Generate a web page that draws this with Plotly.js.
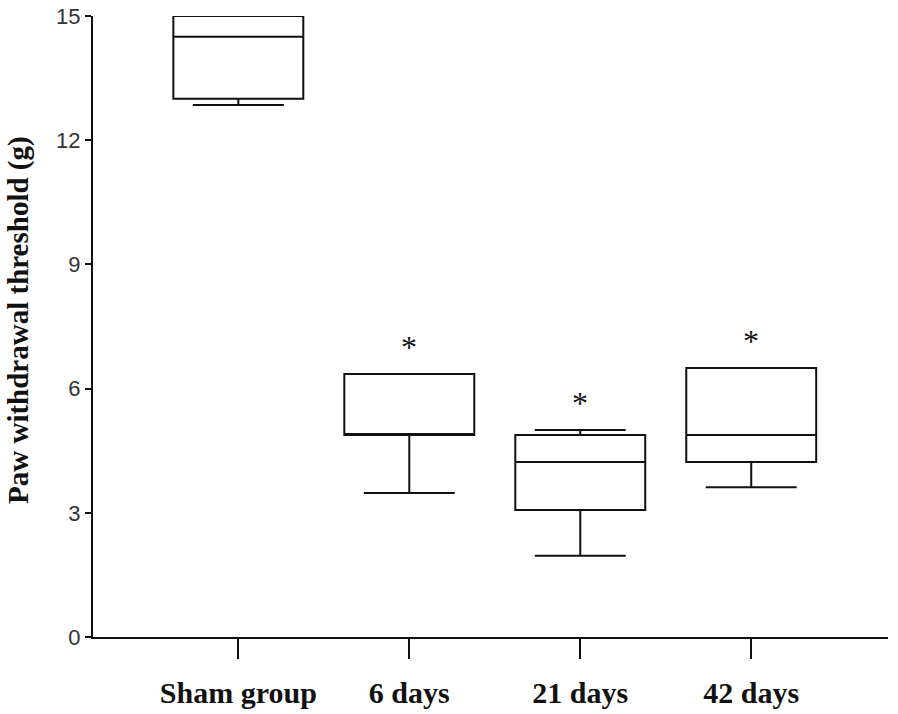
<!DOCTYPE html>
<html>
<head>
<meta charset="utf-8">
<script src="https://cdn.plot.ly/plotly-3.0.1.min.js"></script>
<style>html,body{margin:0;padding:0;background:#fff;}#chart{width:898px;height:714px;}</style>
</head>
<body>
<div id="chart"></div>
<script>
// Data
const categories = ["Sham group", "6 days", "21 days", "42 days"];
const lowerFence = [12.85, 3.48, 1.96, 3.62];
const q1 = [13.0, 4.88, 3.07, 4.23];
const median = [14.5, 4.88, 4.23, 4.88];
const q3 = [15.0, 6.35, 4.88, 6.50];
const upperFence = [15.0, 6.35, 5.0, 6.50];
const significant = [false, true, true, true];
const yTicks = [0, 3, 6, 9, 12, 15];
const yTitle = "Paw withdrawal threshold (g)";

const xIdx = categories.map((c, i) => i);

const trace = {
  type: "box",
  x: xIdx,
  q1: q1,
  median: median,
  q3: q3,
  lowerfence: lowerFence,
  upperfence: upperFence,
  boxpoints: false,
  width: 0.76,
  fillcolor: "#ffffff",
  line: {color: "#111111", width: 2},
  whiskerwidth: 0.7,
  showlegend: false,
  hoverinfo: "skip"
};

const annotations = [];
categories.forEach((c, i) => {
  if (significant[i]) {
    annotations.push({
      x: xIdx[i], y: upperFence[i], xref: "x", yref: "y",
      text: "*", showarrow: false, yanchor: "bottom", yshift: 7,
      font: {family: "Liberation Serif", size: 32, color: "#111"}
    });
  }
});
annotations.push({
  xref: "paper", yref: "paper", x: -0.0935, y: 0.51,
  xanchor: "center", yanchor: "middle", textangle: -90,
  text: "<b>" + yTitle + "</b>", showarrow: false,
  font: {family: "Liberation Serif", size: 29, color: "#111"}
});

const layout = {
  width: 898, height: 714,
  margin: {l: 93, r: 10, t: 16, b: 77},
  paper_bgcolor: "#fff", plot_bgcolor: "#fff",
  xaxis: {
    range: [-0.85, 3.8],
    tickvals: xIdx,
    ticktext: categories.map(c => "<b>" + c + "</b>"),
    showgrid: false, zeroline: false,
    showline: true, linecolor: "#111", linewidth: 2,
    ticks: "outside", ticklen: 20, tickwidth: 2, tickcolor: "#111",
    ticklabelstandoff: 8,
    tickfont: {family: "Liberation Serif", size: 30, color: "#111"}
  },
  yaxis: {
    range: [0, 15],
    tickvals: yTicks,
    showgrid: false, zeroline: false,
    showline: true, linecolor: "#111", linewidth: 2,
    ticks: "outside", ticklen: 6, tickwidth: 2, tickcolor: "#111",
    tickfont: {family: "Liberation Sans", size: 22, color: "#333"}
  },
  annotations: annotations
};

Plotly.newPlot("chart", [trace], layout, {displayModeBar: false, staticPlot: true});
</script>
</body>
</html>
